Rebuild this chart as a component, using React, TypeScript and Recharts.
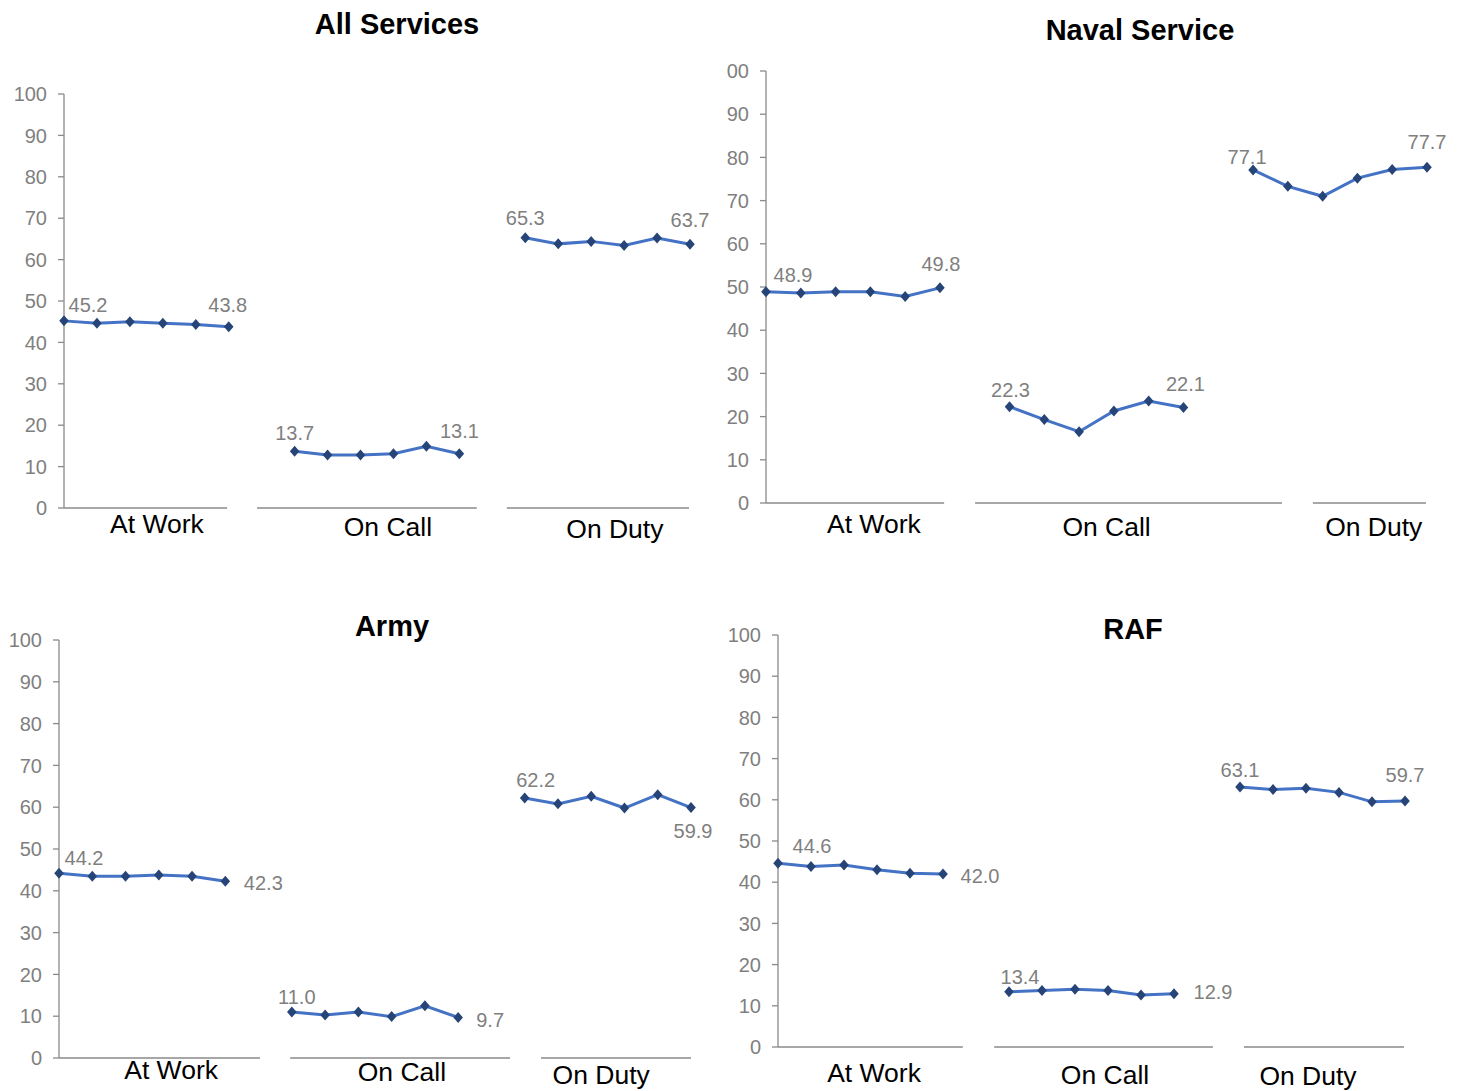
import React from 'react';
import { LineChart, Line, XAxis, YAxis, ReferenceLine } from 'recharts';

// ---- categories and axis ticks ----
const groupNames = ['At Work', 'On Call', 'On Duty'];
const groupKeys = ['atWork', 'onCall', 'onDuty'];
const yTicks = [0, 10, 20, 30, 40, 50, 60, 70, 80, 90, 100];

// ---- series values (six survey points per group) ----
const allAtWork = [45.2, 44.6, 45.0, 44.6, 44.3, 43.8];
const allOnCall = [13.7, 12.8, 12.8, 13.1, 14.9, 13.1];
const allOnDuty = [65.3, 63.8, 64.4, 63.4, 65.2, 63.7];

const navalAtWork = [48.9, 48.6, 48.9, 48.9, 47.8, 49.8];
const navalOnCall = [22.3, 19.3, 16.5, 21.3, 23.6, 22.1];
const navalOnDuty = [77.1, 73.3, 71.0, 75.2, 77.2, 77.7];

const armyAtWork = [44.2, 43.5, 43.5, 43.8, 43.5, 42.3];
const armyOnCall = [11.0, 10.3, 11.0, 9.9, 12.5, 9.7];
const armyOnDuty = [62.2, 60.8, 62.6, 59.8, 63.0, 59.9];

const rafAtWork = [44.6, 43.8, 44.2, 43.0, 42.2, 42.0];
const rafOnCall = [13.4, 13.7, 14.0, 13.7, 12.6, 12.9];
const rafOnDuty = [63.1, 62.5, 62.8, 61.8, 59.5, 59.7];

// Groups sit on one numeric category axis, separated by one empty slot.
const GROUP_STRIDE = 7;
const SLOT_COUNT = 20;

function buildRows(series: number[][]) {
  const rows: any[] = [];
  for (let x = 0; x < SLOT_COUNT; x++) {
    rows.push({ x, atWork: null, onCall: null, onDuty: null });
  }
  series.forEach((vals, g) => {
    vals.forEach((v, i) => {
      rows[g * GROUP_STRIDE + i][groupKeys[g]] = v;
    });
  });
  return rows;
}

const FONT = '"Liberation Sans", Arial, Helvetica, sans-serif';
const LINE_COLOR = '#4472C4';
const MARKER_COLOR = '#264478';
const AXIS_COLOR = '#8A8A8A';
const LABEL_COLOR = '#7F7F7F';

// ---- layout of each panel (page pixels) ----
const panels = [
  {
    title: 'All Services',
    series: [allAtWork, allOnCall, allOnDuty],
    box: { left: 0, top: 0, width: 722, height: 560 },
    plot: { left: 64, right: 690, top: 94, bottom: 508 },
    titleAt: { x: 397, y: 24 },
    segments: [[0, 4.95], [5.86, 12.53], [13.44, 18.97]],
    catTicks: [2.82, 9.83, 16.72],
    catDy: [16, 19, 21],
    labelOffsets: [[[24, -16], [-1, -22]], [[0, -18], [0, -23]], [[0, -20], [0, -24]]],
  },
  {
    title: 'Naval Service',
    series: [navalAtWork, navalOnCall, navalOnDuty],
    box: { left: 726, top: 0, width: 738, height: 560 },
    plot: { left: 766, right: 1427, top: 71, bottom: 503 },
    titleAt: { x: 1140, y: 30 },
    segments: [[0, 5.12], [6.01, 14.83], [15.72, 18.97]],
    catTicks: [3.1, 9.79, 17.47],
    catDy: [21, 24, 24],
    labelOffsets: [[[27, -17], [1, -24]], [[1, -17], [2, -24]], [[-6, -13], [0, -25]]],
  },
  {
    title: 'Army',
    series: [armyAtWork, armyOnCall, armyOnDuty],
    box: { left: 0, top: 580, width: 720, height: 511 },
    plot: { left: 59, right: 691, top: 640, bottom: 1058 },
    titleAt: { x: 392, y: 626 },
    segments: [[0, 6.04], [6.95, 13.56], [14.49, 19]],
    catTicks: [3.37, 10.31, 16.3],
    catDy: [12, 14, 17],
    labelOffsets: [[[25, -15], [38, 2]], [[5, -15], [32, 3]], [[11, -18], [2, 23]]],
  },
  {
    title: 'RAF',
    series: [rafAtWork, rafOnCall, rafOnDuty],
    box: { left: 720, top: 580, width: 744, height: 511 },
    plot: { left: 778, right: 1405, top: 635, bottom: 1047 },
    titleAt: { x: 1133, y: 629 },
    segments: [[0, 5.6], [6.55, 13.18], [14.12, 18.97]],
    catTicks: [2.91, 9.91, 16.06],
    catDy: [26, 28, 29],
    labelOffsets: [[[34, -17], [37, 2]], [[11, -15], [39, -2]], [[0, -17], [0, -26]]],
  },
];

const Diamond = (props: any) => {
  const { cx, cy, value, index } = props;
  if (cx == null || cy == null || value == null) return <g key={`e-${index}`} />;
  return (
    <polygon
      key={`d-${index}`}
      points={`${cx},${cy - 5.5} ${cx + 4.8},${cy} ${cx},${cy + 5.5} ${cx - 4.8},${cy}`}
      fill={MARKER_COLOR}
    />
  );
};

function Panel({ p }: { p: (typeof panels)[number] }) {
  const rows = buildRows(p.series);
  const { box, plot } = p;
  const xAxisHeight = 1;
  const margin = {
    top: plot.top - box.top,
    left: 0,
    right: box.left + box.width - plot.right,
    bottom: box.top + box.height - plot.bottom - xAxisHeight,
  };

  const endLabel = (g: number) => (props: any) => {
    const { x, y, value, index } = props;
    if (value == null || x == null || y == null) return null;
    const first = g * GROUP_STRIDE;
    const last = first + p.series[g].length - 1;
    let off: number[] | null = null;
    if (index === first) off = p.labelOffsets[g][0];
    else if (index === last) off = p.labelOffsets[g][1];
    if (!off) return null;
    return (
      <text
        key={`l-${g}-${index}`}
        x={x + off[0]}
        y={y + off[1]}
        textAnchor="middle"
        dominantBaseline="central"
        fontSize={20}
        fontFamily={FONT}
        fill={LABEL_COLOR}
      >
        {Number(value).toFixed(1)}
      </text>
    );
  };

  const catTick = (props: any) => {
    const { x, y, payload } = props;
    const i = p.catTicks.indexOf(payload.value);
    if (i < 0) return <g />;
    return (
      <text
        x={x}
        y={y + p.catDy[i]}
        textAnchor="middle"
        dominantBaseline="central"
        fontSize={26.5}
        fontFamily={FONT}
        fill="#000000"
      >
        {groupNames[i]}
      </text>
    );
  };

  return (
    <div
      style={{
        position: 'absolute',
        left: box.left,
        top: box.top,
        width: box.width,
        height: box.height,
        overflow: 'hidden',
      }}
    >
      <div
        style={{
          position: 'absolute',
          left: p.titleAt.x - box.left,
          top: p.titleAt.y - box.top,
          transform: 'translate(-50%, -50%)',
          fontFamily: FONT,
          fontWeight: 700,
          fontSize: 29,
          color: '#000',
          whiteSpace: 'nowrap',
          zIndex: 2,
        }}
      >
        {p.title}
      </div>
      <LineChart width={box.width} height={box.height} data={rows} margin={margin}>
        <XAxis
          dataKey="x"
          type="number"
          domain={[0, SLOT_COUNT - 1]}
          ticks={p.catTicks}
          interval={0}
          height={xAxisHeight}
          axisLine={false}
          tickLine={false}
          tickSize={0}
          tickMargin={0}
          tick={catTick}
        />
        <YAxis
          type="number"
          domain={[0, 100]}
          ticks={yTicks}
          interval={0}
          width={plot.left - box.left}
          axisLine={{ stroke: AXIS_COLOR, strokeWidth: 1.3 }}
          tickLine={{ stroke: AXIS_COLOR, strokeWidth: 1.3 }}
          tickSize={6}
          tickMargin={11}
          tick={{ fill: LABEL_COLOR, fontSize: 20, fontFamily: FONT }}
        />
        {p.segments.map((s, i) => (
          <ReferenceLine
            key={`seg-${i}`}
            segment={[
              { x: s[0], y: 0 },
              { x: s[1], y: 0 },
            ]}
            stroke={AXIS_COLOR}
            strokeWidth={1.3}
            ifOverflow="visible"
          />
        ))}
        {groupKeys.map((k, g) => (
          <Line
            key={k}
            dataKey={k}
            type="linear"
            stroke={LINE_COLOR}
            strokeWidth={3}
            connectNulls={false}
            dot={Diamond}
            activeDot={false}
            label={endLabel(g)}
            isAnimationActive={false}
          />
        ))}
      </LineChart>
    </div>
  );
}

export default function App() {
  return (
    <div
      style={{
        position: 'absolute',
        left: 0,
        top: 0,
        width: 1464,
        height: 1091,
        background: '#ffffff',
        overflow: 'hidden',
      }}
    >
      {panels.map((p) => (
        <Panel key={p.title} p={p} />
      ))}
    </div>
  );
}
